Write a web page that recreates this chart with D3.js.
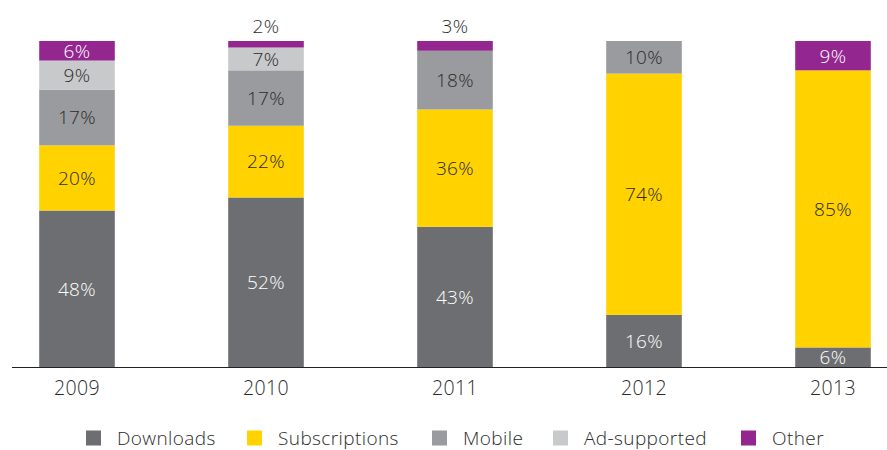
<!DOCTYPE html>
<html><head><meta charset="utf-8">
<script src="https://cdn.jsdelivr.net/npm/d3@7"></script>
<style>body{margin:0;background:#fff}svg{display:block}text{font-family:"Open Sans",sans-serif;font-weight:300;letter-spacing:0.4px}</style>
</head><body><svg id="c" width="887" height="450"></svg>
<script>
const years = ["2009","2010","2011","2012","2013"];
const seriesNames = ["Downloads","Subscriptions","Mobile","Ad-supported","Other"];
const downloads = [48,52,43,16,6];
const subscriptions = [20,22,36,74,85];
const mobile = [17,17,18,10,0];
const adSupported = [9,7,0,0,0];
const other = [6,2,3,0,9];
const colors = ["#6d6e71","#ffd200","#999b9e","#c8c9cb","#93278f"];
const labelColors = ["#ffffff","#2b2b2b","#2b2b2b","#2b2b2b","#ffffff"];

const svg = d3.select("#c");
const x = d3.scaleBand().domain(years).range([-17.5,927.5]).paddingInner(0.6).paddingOuter(0.3);
const y = d3.scaleLinear().domain([0,100]).range([367,41]);

const rows = years.map((yr,i)=>({year:yr,Downloads:downloads[i],Subscriptions:subscriptions[i],Mobile:mobile[i],"Ad-supported":adSupported[i],Other:other[i]}));
const stacked = d3.stack().keys(seriesNames)(rows);

stacked.forEach((s,si)=>{
  const g = svg.append("g");
  g.selectAll("rect").data(s.filter(d=>d[1]>d[0])).join("rect")
    .attr("x",d=>x(d.data.year)).attr("width",x.bandwidth())
    .attr("y",d=>y(d[1])).attr("height",d=>y(d[0])-y(d[1]))
    .attr("fill",colors[si]);
  g.selectAll("text").data(s.filter(d=>d[1]>d[0])).join("text")
    .attr("x",d=>x(d.data.year)+x.bandwidth()/2)
    .attr("y",d=>{const h=d[1]-d[0]; return h<5 ? y(d[1])-15 : (y(d[0])+y(d[1]))/2;})
    .attr("dy","0.36em").attr("text-anchor","middle").attr("font-size",19)
    .attr("fill",d=>(d[1]-d[0])<5 ? "#2b2b2b" : labelColors[si])
    .text(d=>(d[1]-d[0])+"%");
});

svg.append("line").attr("x1",12).attr("x2",887).attr("y1",367.5).attr("y2",367.5).attr("stroke","#222").attr("stroke-width",1.2);

const xa = svg.append("g").attr("transform","translate(0,367)").call(d3.axisBottom(x).tickSize(0).tickPadding(14));
xa.select(".domain").remove();
xa.selectAll("text").attr("font-size",19.5).attr("fill","#2b2b2b").style("font-family","'Open Sans',sans-serif").style("font-weight",300);

const legendStarts = [86,247,432,553,741];
const lg = svg.append("g");
seriesNames.forEach((n,i)=>{
  const cx = legendStarts[i];
  lg.append("rect").attr("x",cx).attr("y",430.5).attr("width",15).attr("height",15).attr("fill",colors[i]);
  lg.append("text").attr("x",cx+31).attr("y",444.5).attr("font-size",19).attr("fill","#2b2b2b").text(n);
});
</script></body></html>
